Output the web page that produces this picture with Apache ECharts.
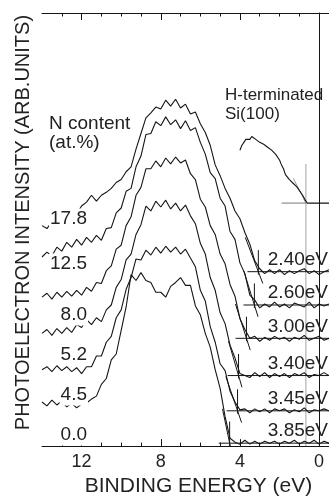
<!DOCTYPE html>
<html>
<head>
<meta charset="utf-8">
<script src="https://cdn.jsdelivr.net/npm/echarts@6/dist/echarts.min.js"></script>
<style>
  html, body { margin: 0; padding: 0; background: #fff; }
  #chart { width: 329px; height: 502px; }
</style>
</head>
<body>
<div id="chart"></div>
<script>
// Binding-energy grid (eV) shared by the six valence-band spectra
const energies = [14, 13.75, 13.5, 13.25, 13, 12.75, 12.5, 12.25, 12, 11.75, 11.5, 11.25, 11, 10.75, 10.5, 10.25,
  10, 9.75, 9.5, 9.25, 9, 8.75, 8.5, 8.25, 8, 7.75, 7.5, 7.25, 7, 6.75, 6.5, 6.25, 6, 5.75, 5.5, 5.25,
  5, 4.75, 4.5, 4.25, 4, 3.75, 3.5, 3.25, 3, 2.75, 2.5, 2.25, 2, 1.75, 1.5, 1.25, 1, 0.75, 0.5, 0.25, 0, -0.25, -0.5];

// N content of each film (at.%), top spectrum first
const nContent = ['17.8', '12.5', '8.0', '5.2', '4.5', '0.0'];

// Photoelectron intensity (arb. units, offset for display)
const spec178 = [225, 222, 229, 224, 232, 227, 236, 237, 245, 249, 256, 250, 256, 259, 263, 269, 272, 280, 285, 303,
  319, 335, 340, 346, 344, 353, 347, 354, 345, 349, 339, 341, 329, 320, 307, 287, 276, 263, 253, 240,
  232, 218, 206, 189, 181, 176, 180, 176, 180, 175, 179, 176, 179, 181, 176, 179, 175, 178, 180];
const spec125 = [193, 198, 194, 203, 199, 208, 203, 211, 205, 213, 208, 215, 210, 222, 223, 238, 243, 260, 263, 285,
  296, 318, 319, 331, 327, 336, 328, 333, 324, 332, 322, 325, 310, 298, 279, 273, 253, 245, 219, 211,
  187, 176, 154, 149, 141, 145, 142, 147, 142, 145, 141, 146, 144, 142, 147, 141, 145, 143, 145];
const spec80 = [152, 156, 150, 157, 152, 158, 153, 159, 154, 162, 158, 167, 166, 179, 184, 201, 205, 225, 234, 256,
  264, 283, 283, 291, 285, 294, 288, 295, 289, 292, 278, 272, 252, 244, 225, 216, 196, 186, 165, 153,
  130, 119, 110, 112, 107, 111, 108, 112, 109, 111, 107, 111, 109, 113, 108, 110, 112, 108, 110];
const spec52 = [115, 119, 113, 120, 115, 121, 116, 124, 121, 129, 124, 131, 127, 139, 144, 162, 170, 190, 196, 216,
  226, 245, 240, 250, 244, 251, 242, 248, 240, 246, 235, 227, 207, 196, 172, 159, 136, 125, 103, 90,
  74, 72, 70, 75, 71, 75, 70, 74, 71, 74, 70, 74, 72, 75, 70, 73, 72, 75, 72];
const spec45 = [78, 81, 76, 82, 77, 81, 76, 80, 74, 81, 81, 92, 92, 106, 112, 131, 139, 160, 172, 191,
  190, 200, 195, 203, 197, 204, 198, 203, 196, 201, 192, 183, 159, 148, 122, 106, 84, 77, 56, 45,
  37, 38, 34, 38, 35, 38, 34, 38, 36, 38, 34, 37, 35, 39, 34, 37, 36, 38, 36];
const spec00 = [45, 41, 47, 42, 46, 40, 44, 39, 43, 44, 48, 51, 63, 69, 88, 94, 118, 142, 175, 169,
  177, 169, 167, 157, 157, 152, 163, 167, 172, 164, 164, 143, 134, 115, 101, 78, 59, 30, 8, 4,
  2, 6, 2, 5, 2, 5, 3, 5, 2, 5, 3, 6, 2, 5, 3, 6, 2, 5, 3];

// Valence-band offsets relative to the H-terminated Si(100) edge (eV)
const vbmOffset = [2.40, 2.60, 3.00, 3.40, 3.45, 3.85];
// Background level and leading-edge slope (intensity per eV) of each linear fit
const baseLevel = [178, 144, 110, 72, 36, 3];
const edgeSlope = [53, 65, 63, 69, 59, 97];

// H-terminated Si(100) reference spectrum
const siVbm = 0.67;
const siEnergies = [4.0, 3.9, 3.8, 3.7, 3.6, 3.5, 3.4, 3.3, 3.2, 3.1, 3.0, 2.9, 2.8, 2.7, 2.6, 2.5, 2.4, 2.3, 2.2, 2.1,
  2.0, 1.9, 1.8, 1.7, 1.6, 1.5, 1.4, 1.3, 1.2, 1.1, 1.0, 0.9, 0.8, 0.7, 0.6, 0.5, 0.4, 0.3, 0.2, 0.1,
  0.0, -0.1, -0.2, -0.3, -0.4, -0.5];
const siIntensity = [302, 307, 310, 313, 314, 313, 316, 314, 313, 313, 310, 311, 308, 307, 305, 305, 302, 300, 298, 296,
  292, 287, 283, 277, 275, 272, 270, 268, 266, 264, 261, 258, 255, 251, 248, 248, 248, 248, 248, 248,
  248, 248, 248, 248, 248, 248];
const siBase = 248;

// Axis ticks (eV)
const xMajorTicks = [12, 8, 4, 0];
const xMinorTicks = [13, 11, 10, 9, 7, 6, 5, 3, 2, 1];

const FONT = '"Liberation Sans", Arial, Helvetica, sans-serif';
const INK = '#151515';
const TXT = '#222';

const chart = echarts.init(document.getElementById('chart'), null, { renderer: 'canvas' });

function xAxisDef(pos, ticks, len, showLine, showLabels) {
  return {
    type: 'value', position: pos, min: -0.5, max: 14, inverse: true,
    splitLine: { show: false },
    axisLine: { show: showLine, onZero: false, lineStyle: { color: INK, width: 1 } },
    axisTick: { show: true, inside: true, length: len, customValues: ticks, lineStyle: { color: INK, width: 1 } },
    axisLabel: showLabels
      ? { show: true, customValues: ticks, fontSize: 18, color: TXT, fontFamily: FONT, margin: 7 }
      : { show: false }
  };
}

const xAxes = [
  xAxisDef('bottom', xMajorTicks, 7, true, true),
  xAxisDef('bottom', xMinorTicks, 3.5, false, false),
  xAxisDef('top', xMajorTicks, 7, true, false),
  xAxisDef('top', xMinorTicks, 3.5, false, false)
];
Object.assign(xAxes[0], {
  name: 'BINDING ENERGY (eV)', nameLocation: 'middle', nameGap: 24,
  nameTextStyle: { fontSize: 21, color: TXT, fontFamily: FONT, padding: [0, 0, 0, 26] }
});

function seg(points, color, width, z) {
  return {
    type: 'line', xAxisIndex: 0, data: points, symbol: 'none', showSymbol: false, silent: true,
    lineStyle: { color: color, width: width }, z: z, animation: false
  };
}

const series = [];

// Si edge reference: vertical guide and its fit lines
series.push(seg([[siVbm, 0], [siVbm, 288]], '#c6c6c6', 1.6, 1));
series.push(seg([[1.9, siBase], [siVbm, siBase]], '#777', 1, 2));
series.push(seg([[1.3, siBase + (1.3 - siVbm) * 40], [siVbm, siBase]], '#9a9a9a', 1, 2));

// Spectra
[spec178, spec125, spec80, spec52, spec45, spec00].forEach((vals, k) => {
  series.push(Object.assign(seg(energies.map((e, i) => [e, vals[i]]), INK, 1.1, 4), { name: nContent[k] }));
});
series.push(Object.assign(seg(siEnergies.map((e, i) => [e, siIntensity[i]]), INK, 1.1, 4), { name: 'H-terminated Si(100)' }));

// Linear extrapolation of each leading edge to its background
vbmOffset.forEach((off, k) => {
  const vbm = siVbm + off;
  const b = baseLevel[k];
  const s = edgeSlope[k];
  series.push(seg([[vbm + 0.55, b], [-0.5, b]], INK, 1, 3));
  series.push(seg([[vbm + 35 / s, b + 35], [vbm - 12 / s, b - 12]], INK, 1, 3));
  series.push(seg([[vbm, b - 3], [vbm, b + 22]], INK, 1, 3));
});

chart.setOption({
  animation: false,
  textStyle: { fontFamily: FONT },
  grid: { left: 42, right: 0, top: 13, bottom: 47, containLabel: false },
  xAxis: xAxes,
  yAxis: {
    type: 'value', min: 0, max: 442,
    axisLine: { show: true, lineStyle: { color: INK, width: 1 } },
    axisTick: { show: false }, axisLabel: { show: false }, splitLine: { show: false },
    name: 'PHOTOELECTRON INTENSITY (ARB.UNITS)', nameLocation: 'middle', nameGap: 9,
    nameTextStyle: { fontSize: 20, color: TXT, fontFamily: FONT, padding: [0, 0, 0, 14] }
  },
  series: series
});

// Text annotations
const texts = [];
function txt(x, y, s, size, align, bg) {
  const style = { text: s, font: size + 'px ' + FONT, fill: TXT, textAlign: align, textVerticalAlign: 'middle' };
  if (bg) { style.backgroundColor = '#fff'; style.padding = [1, 1, 1, 1]; }
  texts.push({ type: 'text', x: x, y: y, z: 10, silent: true, style: style });
}

txt(49, 124, 'N content', 19, 'left');
txt(49, 143, '(at.%)', 19, 'left');
txt(225, 95, 'H-terminated', 17, 'left');
txt(225, 114, 'Si(100)', 17, 'left');

const nLabelY = [219, 264, 315, 355, 395, 435];
nContent.forEach((s, k) => txt(88, nLabelY[k], s, 19, 'right', true));

vbmOffset.forEach((off, k) => {
  const p = chart.convertToPixel({ gridIndex: 0 }, [-0.5, baseLevel[k]]);
  txt(p[0] - 1, p[1] - 12, off.toFixed(2) + 'eV', 19, 'right');
});

chart.setOption({ graphic: texts });
</script>
</body>
</html>
